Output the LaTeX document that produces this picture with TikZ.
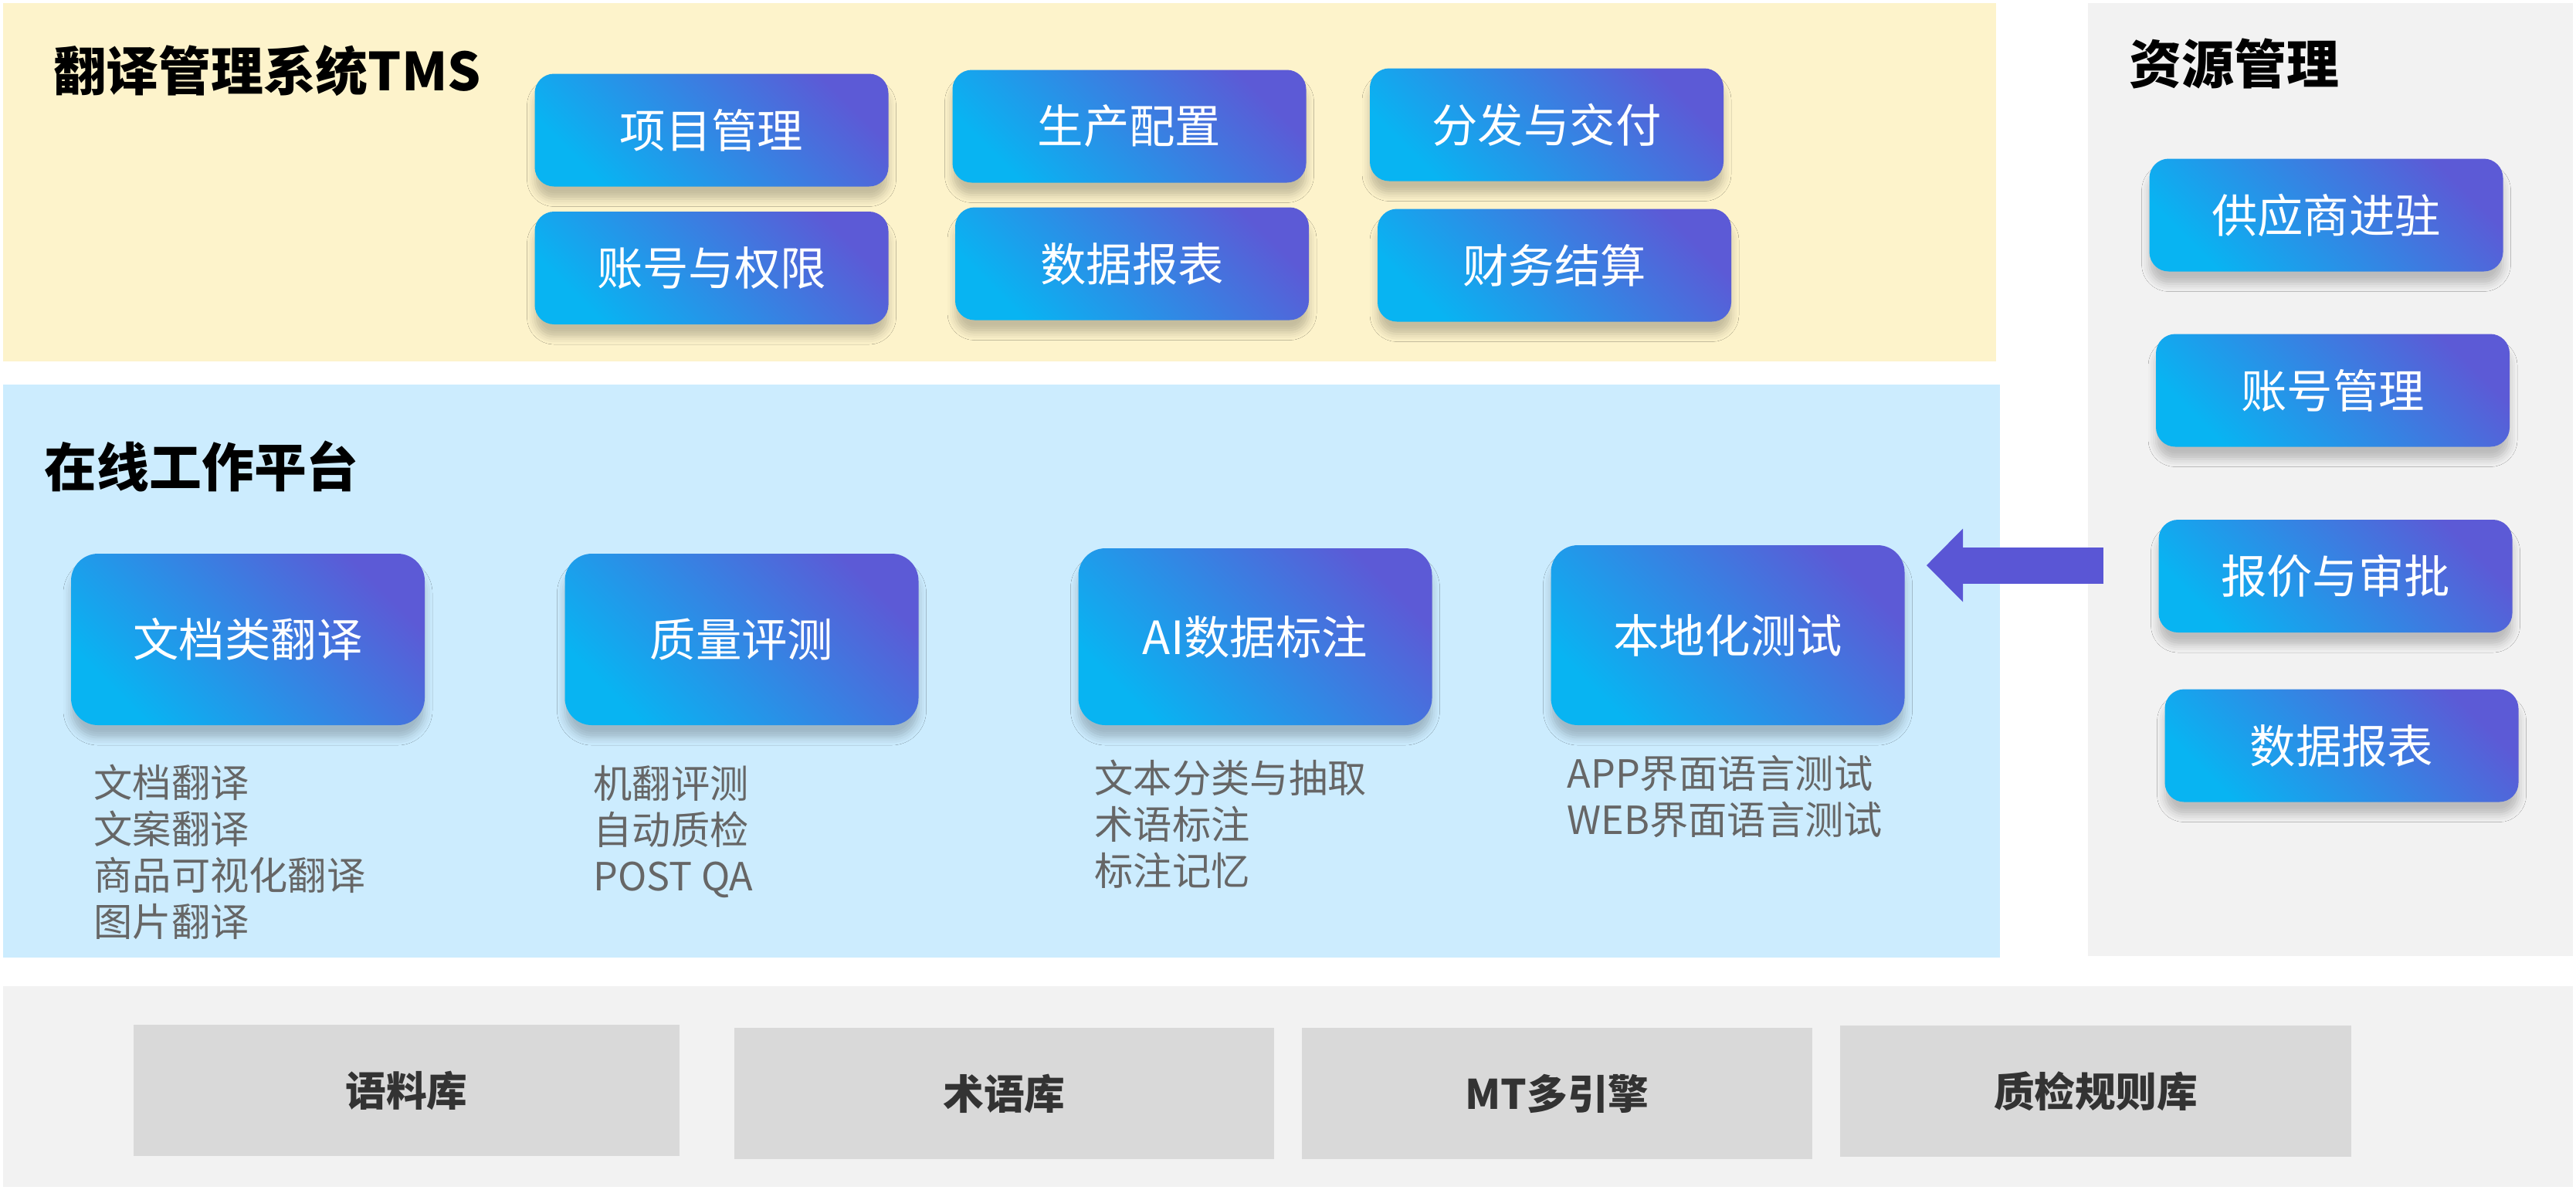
\documentclass[tikz,border=0pt]{standalone}
\usepackage{fontspec}
\setmainfont{Noto Sans CJK SC}
\usetikzlibrary{shadows.blur,arrows.meta}

\definecolor{tmsbg}{RGB}{253,243,203}
\definecolor{webbg}{RGB}{204,236,254}
\definecolor{greybg}{RGB}{242,242,242}
\definecolor{basebox}{RGB}{217,217,217}
\definecolor{modtop}{RGB}{92,90,214}
\definecolor{modbot}{RGB}{8,180,242}
\definecolor{arrc}{RGB}{90,86,213}
\definecolor{subc}{RGB}{102,102,102}
\definecolor{basetxt}{RGB}{51,51,51}

\begin{document}
\begin{tikzpicture}[every node/.style={inner sep=0pt},
    panel/.style={rectangle, draw=none},
    title/.style={anchor=west, font=\fontsize{19.3}{23}\selectfont\bfseries},
    mod/.style={rectangle, rounded corners=0.25cm, minimum width=4.58cm, minimum height=1.46cm,
        top color=modtop, bottom color=modbot, shading angle=-45, text=white,
        font=\fontsize{16.9}{20}\selectfont,
        blur shadow={shadow xshift=0cm, shadow yshift=-0.16cm, shadow blur radius=0.1cm, shadow opacity=22}},
    bigmod/.style={mod, rounded corners=0.35cm},
    sub/.style={anchor=north west, align=left, text=subc, font=\fontsize{14.3}{17.07}\selectfont},
    store/.style={rectangle, fill=basebox, minimum height=1.7cm, text=basetxt,
        font=\fontsize{15}{18}\selectfont\bfseries},
    bigarrow/.style={draw=arrc, line width=0.47cm, -{Triangle[length=0.47cm, width=0.95cm, line width=0pt]}}]
    \useasboundingbox (0,0) rectangle (33.36,-15.40);

    % Background panels
    \node[panel, fill=tmsbg, minimum width=25.81cm, minimum height=4.64cm] (tms) at (12.945,-2.36) {};
    \node[panel, fill=webbg, minimum width=25.86cm, minimum height=7.42cm] (web) at (12.97,-8.69) {};
    \node[panel, fill=greybg, minimum width=6.28cm, minimum height=12.34cm] (res) at (30.18,-6.21) {};
    \node[panel, fill=greybg, minimum width=33.28cm, minimum height=2.60cm] (base) at (16.68,-14.07) {};

    \node[title] (tmst) at (0.69,-0.92) {翻译管理系统TMS};
    \node[title] (webt) at (0.57,-6.04) {在线工作平台};
    \node[title] (rest) at (27.57,-0.82) {资源管理};

    % TMS modules
    \node[mod] (pm) at (9.215,-1.685) {项目管理};
    \node[mod] (prod) at (14.625,-1.635) {生产配置};
    \node[mod] (deliv) at (20.03,-1.615) {分发与交付};
    \node[mod] (acct) at (9.215,-3.47) {账号与权限};
    \node[mod] (rep) at (14.66,-3.415) {数据报表};
    \node[mod] (fin) at (20.13,-3.435) {财务结算};

    % Resource modules
    \node[mod] (vend) at (30.125,-2.785) {供应商进驻};
    \node[mod] (acm) at (30.21,-5.055) {账号管理};
    \node[mod] (quote) at (30.245,-7.46) {报价与审批};
    \node[mod] (rep2) at (30.325,-9.655) {数据报表};

    % Online platform
    \node[bigmod, minimum height=2.22cm] (doc) at (3.21,-8.28) {文档类翻译};
    \node[bigmod, minimum height=2.22cm] (qa) at (9.605,-8.28) {质量评测};
    \node[bigmod, minimum height=2.29cm] (ai) at (16.255,-8.245) {AI数据标注};
    \node[bigmod, minimum height=2.33cm] (loc) at (22.375,-8.225) {本地化测试};

    \node[sub] (docs) at (1.21,-9.89) {文档翻译\\文案翻译\\商品可视化翻译\\图片翻译};
    \node[sub] (qas) at (7.68,-9.91) {机翻评测\\自动质检\\POST QA};
    \node[sub] (ais) at (14.17,-9.83) {文本分类与抽取\\术语标注\\标注记忆};
    \node[sub] (locs) at (20.29,-9.77) {APP界面语言测试\\WEB界面语言测试};

    % Base stores
    \node[store, minimum width=7.07cm] (corp) at (5.265,-14.12) {语料库};
    \node[store, minimum width=6.99cm] (term) at (13.005,-14.16) {术语库};
    \node[store, minimum width=6.61cm] (mt) at (20.165,-14.16) {MT多引擎};
    \node[store, minimum width=6.62cm] (qcr) at (27.14,-14.13) {质检规则库};

    \coordinate (arrS) at (27.24,-7.32);
    \coordinate (arrE) at (24.95,-7.32);
    \draw[bigarrow] (arrS) -- (arrE); % resources feed testing
\end{tikzpicture}
\end{document}
